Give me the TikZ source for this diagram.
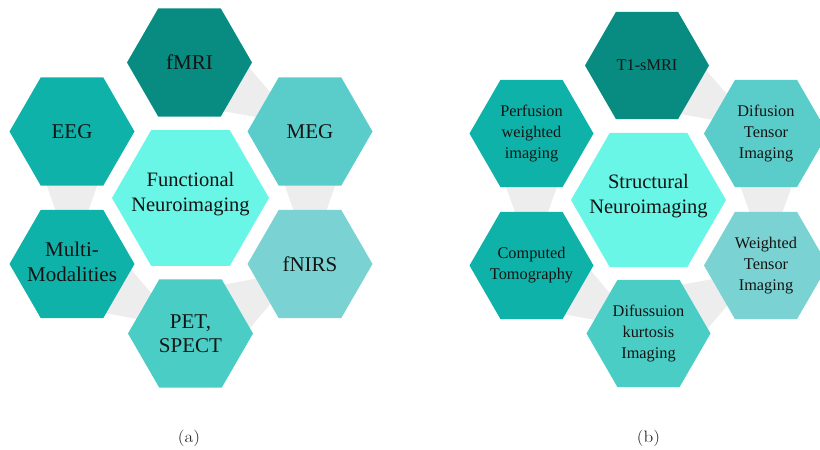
\documentclass[tikz,border=0pt]{standalone}
\usepackage{fontspec}
\newfontfamily\hexfont{Liberation Serif}
\usetikzlibrary{shapes.geometric,calc}
\definecolor{cdark}{HTML}{088C82}
\definecolor{cmid}{HTML}{0FB2A8}
\definecolor{cmeg}{HTML}{5ACDCA}
\definecolor{cnirs}{HTML}{7AD2D2}
\definecolor{cpet}{HTML}{49CDC4}
\definecolor{ccen}{HTML}{69F6E6}
\definecolor{cband}{HTML}{EDEDED}
\definecolor{ctext}{HTML}{141414}
\newcommand\grayband[2]{\fill[cband] ($(#1)!44.5pt!90:(#2)$) -- ($(#1)!44.5pt!-90:(#2)$) -- ($(#1)!125pt!(#2)$) -- cycle;}
\tikzset{
  hexouter/.style={regular polygon, regular polygon sides=6, minimum size=125pt, inner sep=0pt, outer sep=0pt, draw=none},
  hexcenter/.style={regular polygon, regular polygon sides=6, minimum size=157pt, inner sep=0pt, outer sep=0pt, draw=none},
  biglbl/.style={align=center, text=ctext, inner sep=0pt, font=\hexfont\fontsize{21}{24.5}\selectfont},
  cenlbl/.style={align=center, text=ctext, inner sep=0pt, font=\hexfont\fontsize{20.5}{25.5}\selectfont},
  smalllbl/.style={align=center, text=ctext, inner sep=0pt, font=\hexfont\fontsize{16.3}{20.8}\selectfont},
  caplbl/.style={inner sep=0pt, text=ctext, font=\fontsize{16.5}{19}\selectfont}
}
\begin{document}
\begin{tikzpicture}[x=1pt,y=-1pt]
\useasboundingbox (0,0) rectangle (820,450);
\clip (0,0) rectangle (820,450);
% centres, panel (a)
\coordinate (cA) at (190.5,198);
\coordinate (fmri) at (189.5,62.5);
\coordinate (eeg) at (72,131.5);
\coordinate (meg) at (310,131.5);
\coordinate (multi) at (72,264);
\coordinate (fnirs) at (310,264);
\coordinate (pet) at (190.5,333.5);
% centres, panel (b)
\coordinate (cB) at (648.5,200);
\coordinate (t1) at (647,65.5);
\coordinate (pwi) at (531.5,133.5);
\coordinate (dti) at (766,133.5);
\coordinate (ct) at (531.5,265.5);
\coordinate (wti) at (766,265.5);
\coordinate (dki) at (648.5,333.5);
% gray bands
\grayband{fmri}{meg}
\grayband{meg}{fnirs}
\grayband{pet}{fnirs}
\grayband{multi}{pet}
\grayband{eeg}{multi}
\grayband{t1}{dti}
\grayband{dti}{wti}
\grayband{dki}{wti}
\grayband{ct}{dki}
\grayband{pwi}{ct}
% hexagons (a)
\node[hexcenter, fill=ccen] (hcA) at (cA) {};
\node[hexouter, fill=cdark] (hfmri) at (fmri) {};
\node[hexouter, fill=cmid] (heeg) at (eeg) {};
\node[hexouter, fill=cmeg] (hmeg) at (meg) {};
\node[hexouter, fill=cmid] (hmulti) at (multi) {};
\node[hexouter, fill=cnirs] (hfnirs) at (fnirs) {};
\node[hexouter, fill=cpet] (hpet) at (pet) {};
% hexagons (b)
\node[hexcenter, minimum size=155pt, fill=ccen] (hcB) at (cB) {};
\node[hexouter, minimum size=124pt, fill=cdark] (ht1) at (t1) {};
\node[hexouter, minimum size=124pt, fill=cmid] (hpwi) at (pwi) {};
\node[hexouter, minimum size=124pt, fill=cmeg] (hdti) at (dti) {};
\node[hexouter, minimum size=124pt, fill=cmid] (hct) at (ct) {};
\node[hexouter, minimum size=124pt, fill=cnirs] (hwti) at (wti) {};
\node[hexouter, minimum size=124pt, fill=cpet] (hdki) at (dki) {};
% labels (a)
\node[cenlbl] (tcA) at ($(cA)+(0,-4)$) {Functional\\Neuroimaging};
\node[biglbl] (tfmri) at (fmri) {fMRI};
\node[biglbl] (teeg) at (eeg) {EEG};
\node[biglbl] (tmeg) at (meg) {MEG};
\node[biglbl] (tmulti) at ($(multi)+(0,-2)$) {Multi-\\Modalities};
\node[biglbl] (tfnirs) at (fnirs) {fNIRS};
\node[biglbl] (tpet) at (pet) {PET,\\SPECT};
% labels (b)
\node[cenlbl] (tcB) at ($(cB)+(0,-4)$) {Structural\\Neuroimaging};
\node[smalllbl] (tt1) at (t1) {T1-sMRI};
\node[smalllbl] (tpwi) at (pwi) {Perfusion\\weighted\\imaging};
\node[smalllbl] (tdti) at (dti) {Difusion\\Tensor\\Imaging};
\node[smalllbl] (tct) at (ct) {Computed\\Tomography};
\node[smalllbl] (twti) at (wti) {Weighted\\Tensor\\Imaging};
\node[smalllbl] (tdki) at (dki) {Difussuion\\kurtosis\\Imaging};
% captions
\node[caplbl] (capa) at (189,438.5) {\scalebox{1.15}[1]{(a)}};
\node[caplbl] (capb) at (648.5,438.5) {\scalebox{1.15}[1]{(b)}};
\end{tikzpicture}
\end{document}
